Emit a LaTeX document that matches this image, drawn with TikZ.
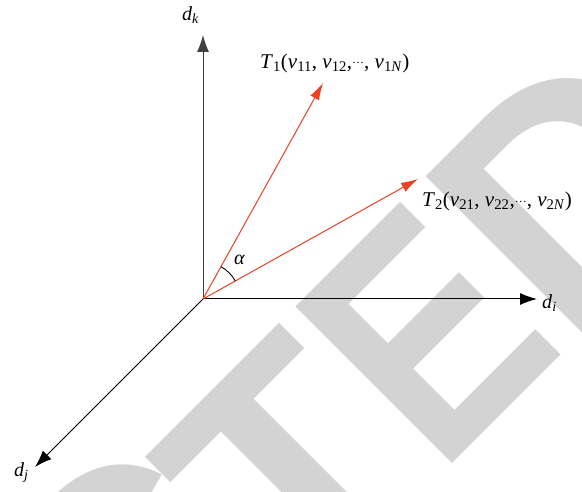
\documentclass[tikz,border=0pt]{standalone}
\usepackage{graphicx}
\usepackage{fontspec}
\newfontfamily\wmfont{Liberation Sans}
\newfontfamily\labfont{Liberation Serif}
\usetikzlibrary{arrows.meta}
\definecolor{wm}{RGB}{211,211,211}
\definecolor{vred}{RGB}{238,65,35}
\newcommand{\iv}[1]{\textit{#1}}
\newcommand{\sbx}[1]{\textsubscript{#1}}
\newcommand{\mydots}{\raisebox{0.22em}{\fontsize{12}{12}\selectfont …}}
\begin{document}
\begin{tikzpicture}[x=1pt,y=1pt,
  axis/.style={line width=1pt, -{Latex[length=17pt,width=12pt]}},
  vec/.style={vred, line width=1pt, -{Latex[length=17pt,width=10pt]}},
  lbl/.style={font=\labfont\fontsize{20}{24}\selectfont, inner sep=0pt, anchor=base west},
  tlbl/.style={font=\labfont\fontsize{21}{24}\selectfont, inner sep=0pt, anchor=base west},
  wmletter/.style={text=wm, font=\wmfont\bfseries\fontsize{322}{322}\selectfont, rotate=45, anchor=base west, inner sep=0pt}]
\useasboundingbox (0,0) rectangle (582,492);
\fill[white] (0,0) rectangle (582,492);
\begin{scope}
\clip (0,0) rectangle (582,492);
\node[wmletter] (wC) at (121.4,-254.6) {C};
\node[wmletter] (wT) at (299.6,-124.4) {T};
\node[wmletter] (wE) at (439.8,15.8) {\scalebox{0.85}[1]{E}};
\node[wmletter] (wD) at (567.7,143.7) {D};
\end{scope}
\coordinate (O) at (203,193);
\coordinate (kend) at (203,457);
\coordinate (iend) at (537,193);
\coordinate (jend) at (35,25);
\coordinate (t1end) at (323,409);
\coordinate (t2end) at (418,313);
\draw[axis, black!75] (O) -- (kend);
\draw[axis] (O) -- (iend);
\draw[axis] (O) -- (jend);
\draw[vec] (O) -- (t1end);
\draw[vec] (O) -- (t2end);
\draw[line width=0.9pt] (O) ++(29.2:37) arc[start angle=29.2, end angle=60.9, radius=37];
\node[lbl] (dk) at (182,471.3) {\iv{d}\sbx{\iv{k}}};
\node[lbl] (di) at (542,183.7) {\iv{d}\sbx{\iv{i}}};
\node[lbl] (dj) at (14,15.3) {\iv{d}\sbx{\iv{j}}};
\node[lbl] (alpha) at (234,227) {\iv{α}};
\node[tlbl] (T1) at (260,423.7) {\iv{T}\sbx{1}(\iv{v}\sbx{11}, \iv{v}\sbx{12},\mydots, \iv{v}\sbx{1\iv{N}})};
\node[tlbl] (T2) at (422,285.3) {\iv{T}\sbx{2}(\iv{v}\sbx{21}, \iv{v}\sbx{22},\mydots, \iv{v}\sbx{2\iv{N}})};
\end{tikzpicture}
\end{document}
